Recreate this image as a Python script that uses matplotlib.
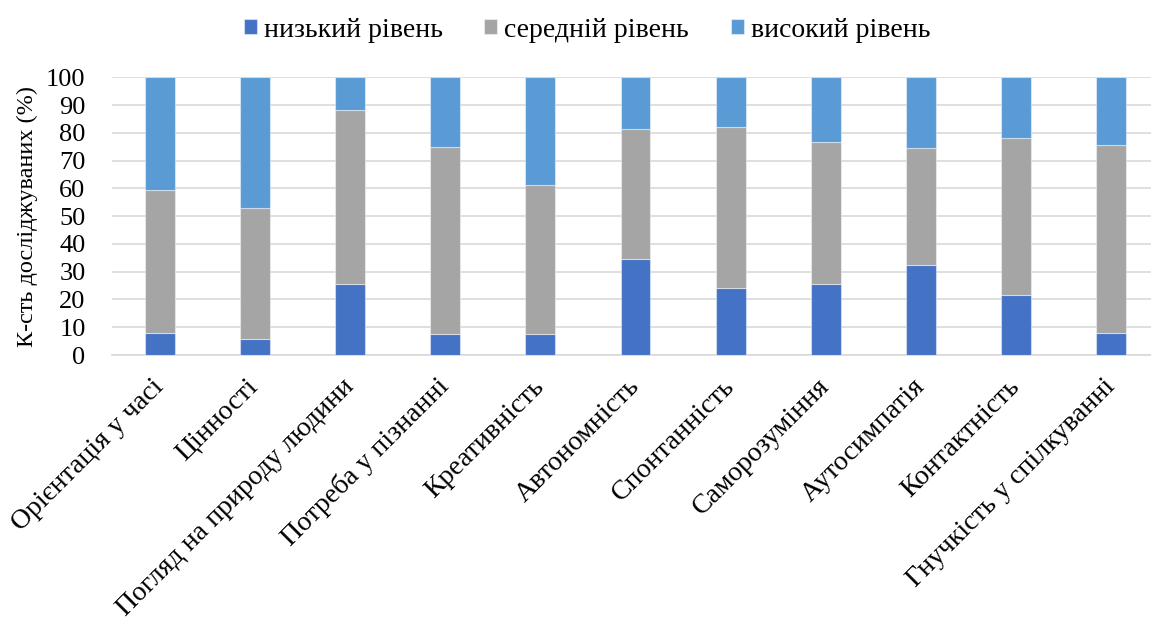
import numpy as np
import matplotlib
matplotlib.use('Agg')
import matplotlib.pyplot as plt

plt.rcParams['font.family'] = ['Liberation Serif', 'DejaVu Serif']

categories = ['Орієнтація у часі', 'Цінності', 'Погляд на природу людини',
              'Потреба у пізнанні', 'Креативність', 'Автономність',
              'Спонтанність', 'Саморозуміння', 'Аутосимпатія',
              'Контактність', 'Гнучкість у спілкуванні']
low = [8.0, 5.7, 25.5, 7.5, 7.5, 34.7, 24.0, 25.5, 32.5, 21.5, 8.0]
mid = [51.3, 47.1, 62.7, 67.4, 53.6, 46.8, 58.2, 51.2, 42.0, 56.6, 67.8]
high = [40.7, 47.2, 11.8, 25.1, 38.9, 18.5, 17.8, 23.3, 25.5, 21.9, 24.2]
series_names = ['низький рівень', 'середній рівень', 'високий рівень']
colors = ['#4472C4', '#A5A5A5', '#5B9BD5']

fig = plt.figure(figsize=(11.51, 6.22), dpi=100)
ax = fig.add_axes([112 / 1151, 267 / 622, 1047 / 1151, 277.7 / 622])

x = np.arange(len(categories))
bottom = np.zeros(len(categories))
edge = (1, 1, 1, 0.45)
for vals, name, col in zip([low, mid, high], series_names, colors):
    ax.bar(x, vals, width=0.315, bottom=bottom, color=col, label=name,
           edgecolor=edge, linewidth=0.8, zorder=3)
    bottom += np.array(vals)

ax.set_xlim(-0.5, len(categories) - 0.5)
ax.set_ylim(0, 100)
ax.set_yticks(range(0, 101, 10))
ax.yaxis.grid(True, color='#D9D9D9', linewidth=1.2, zorder=0)
for s in ['top', 'right', 'left']:
    ax.spines[s].set_visible(False)
ax.spines['bottom'].set_color('#D9D9D9')
ax.spines['bottom'].set_linewidth(1.2)
ax.tick_params(axis='both', length=0)
ax.tick_params(axis='y', pad=19, labelsize=19)
ax.tick_params(axis='x', pad=20, labelsize=20)

ax.set_xticks(x)
ax.set_xticklabels(categories, rotation=45, ha='right', va='center',
                   rotation_mode='anchor')
ax.set_ylabel('К-сть досліджуваних (%)', fontsize=17.5, labelpad=6)

fig.legend(loc='upper center', bbox_to_anchor=(0.51, 1.012), ncol=3,
           frameon=False, fontsize=20, handlelength=0.47, handleheight=0.47,
           handletextpad=0.25, columnspacing=1.5)

fig.savefig('out.png', dpi=100)
